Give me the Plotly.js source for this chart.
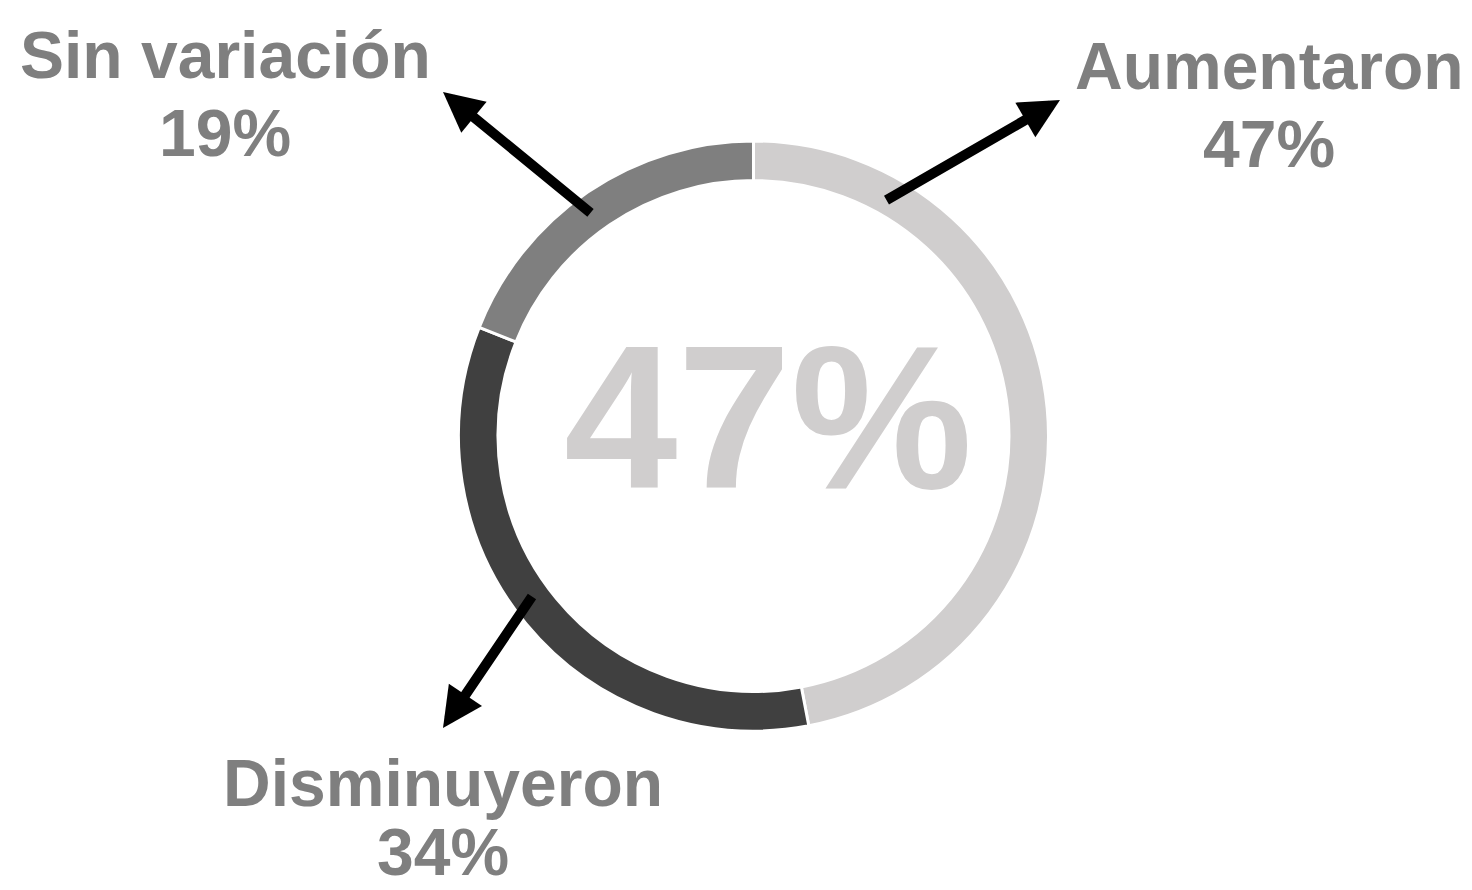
<!DOCTYPE html>
<html>
<head>
<meta charset="utf-8">
<script src="https://cdn.plot.ly/plotly-3.0.1.min.js"></script>
<style>html,body{margin:0;padding:0;background:#fff;}#chart{width:1472px;height:890px;}</style>
</head>
<body>
<div id="chart"></div>
<script>
const categories = ["Aumentaron", "Disminuyeron", "Sin variación"];
const values = [47, 34, 19];
const valueLabels = ["47%", "34%", "19%"];
const colors = ["#D0CECE", "#404040", "#7F7F7F"];
const centerLabel = "47%";

const W = 1472, H = 890;
const px = x => x / W;
const py = y => 1 - y / H;
const cx = 753.5, cy = 436, R = 295;

const font = "Liberation Sans, Arial, sans-serif";
const labelFont = {family: font, size: 66, color: "#7F7F7F", weight: "bold"};

const trace = {
  type: "pie",
  labels: categories,
  values: values,
  sort: false,
  direction: "clockwise",
  rotation: 0,
  hole: 0.866,
  textinfo: "none",
  hoverinfo: "label+percent",
  marker: {colors: colors, line: {color: "#ffffff", width: 3}},
  domain: {x: [px(cx - R), px(cx + R)], y: [py(cy + R), py(cy - R)]},
  showlegend: false
};

function arrow(tipX, tipY, tailX, tailY) {
  return {
    xref: "paper", yref: "paper", x: px(tipX), y: py(tipY),
    ax: tailX - tipX, ay: tailY - tipY, axref: "pixel", ayref: "pixel",
    text: "", showarrow: true, arrowhead: 2, arrowsize: 0.8, arrowwidth: 10,
    arrowcolor: "#000000", standoff: 0, startstandoff: 0
  };
}
function label(text, x, y, f, yanchor) {
  return {xref: "paper", yref: "paper", x: px(x), y: py(y), text: text,
    showarrow: false, xanchor: "center", yanchor: yanchor || "middle",
    borderpad: 0, font: f || labelFont};
}

const annotations = [
  arrow(1060, 100, 885, 201),
  arrow(443, 92, 592, 214),
  arrow(443, 728, 533, 595),
  label(categories[0], 1269, 66),
  label(valueLabels[0], 1269, 144),
  label(categories[2], 225, 55),
  label(valueLabels[2], 225, 133),
  label(categories[1], 443, 783),
  label(valueLabels[1], 443, 890, null, "bottom"),
  label(centerLabel, 768, 417, {family: font, size: 204, color: "#D0CECE", weight: "bold"})
];

const layout = {
  width: W, height: H,
  margin: {l: 0, r: 0, t: 0, b: 0},
  paper_bgcolor: "#ffffff",
  plot_bgcolor: "#ffffff",
  annotations: annotations,
  showlegend: false
};

Plotly.newPlot("chart", [trace], layout, {displayModeBar: false, staticPlot: true});
</script>
</body>
</html>
